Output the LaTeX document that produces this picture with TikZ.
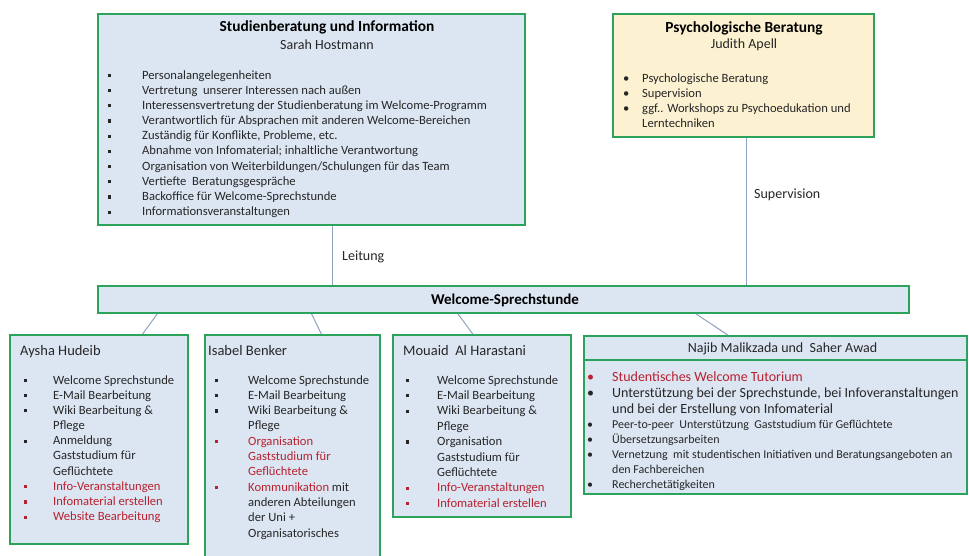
\documentclass[tikz,border=0pt]{standalone}
\usepackage{fontspec}
\setmainfont{Carlito}
\usetikzlibrary{calc}
\definecolor{bxblue}{HTML}{DCE6F2}
\definecolor{bxyel}{HTML}{FCF1D1}
\definecolor{bxgreen}{HTML}{2BA35B}
\definecolor{conncol}{HTML}{8DA3C2}
\definecolor{redtxt}{HTML}{B8212F}
\definecolor{txt}{HTML}{262626}
\newcommand\sqb{\leavevmode\rule[2pt]{3.2pt}{3.2pt}}
\newcommand\rsqb{\leavevmode{\color{redtxt}\rule[2pt]{3.2pt}{3.2pt}}}
\newcommand\rdb{\leavevmode{\color{redtxt}\textbullet}}
\newcommand\rt[1]{\leavevmode\textcolor{redtxt}{#1}}
\tikzset{
  box/.style={draw=bxgreen, line width=2pt, fill=bxblue, inner sep=0pt, anchor=north west},
  conn/.style={draw=conncol, line width=1pt},
  lst/.style={anchor=base west, inner sep=0pt, text=txt},
  ttl/.style={anchor=base, inner sep=0pt, text=black, font=\fontsize{15.4}{17}\selectfont\bfseries},
  nm/.style={anchor=base, inner sep=0pt, text=txt, font=\fontsize{14}{16}\selectfont},
  pname/.style={anchor=base west, inner sep=0pt, text=txt, font=\fontsize{14.5}{16}\selectfont},
  lbl/.style={anchor=base west, inner sep=0pt, text=txt, font=\fontsize{14}{16}\selectfont},
}
\begin{document}
\begin{tikzpicture}[x=1pt,y=-1pt]
\useasboundingbox (0,0) rectangle (969,555);
\fill[white] (0,0) rectangle (969,555);

% boxes
\node[box, minimum width=427pt, minimum height=211pt] (sb) at (97,13) {};
\node[box, fill=bxyel, minimum width=261pt, minimum height=123pt] (pb) at (612,13) {};
\node[box, minimum width=811pt, minimum height=27pt] (bar) at (97,285) {};
\node[box, minimum width=178pt, minimum height=209pt] (ah) at (9,334) {};
\node[box, minimum width=175pt, minimum height=232pt] (ib) at (204,334) {};
\node[box, minimum width=178pt, minimum height=182pt] (ma) at (392,334) {};
\node[box, minimum width=383pt, minimum height=158pt] (nk) at (583,335) {};
\draw[bxgreen, line width=1.5pt] ($(nk.north west)+(0,25)$) -- ($(nk.north east)+(0,25)$);

% connectors
\coordinate (l1) at ($(sb.south west)!0.548!(sb.south east)$);
\draw[conn] (l1) -- (l1 |- bar.north);
\coordinate (s1) at ($(pb.south west)!0.51!(pb.south east)$);
\draw[conn] (s1) -- (s1 |- bar.north);
\draw[conn] ($(bar.south west)!0.074!(bar.south east)$) -- ($(ah.north west)!0.742!(ah.north east)$);
\draw[conn] ($(bar.south west)!0.264!(bar.south east)$) -- ($(ib.north west)!0.663!(ib.north east)$);
\draw[conn] ($(bar.south west)!0.444!(bar.south east)$) -- ($(ma.north west)!0.449!(ma.north east)$);
\draw[conn] ($(bar.south west)!0.737!(bar.south east)$) -- ($(nk.north west)!0.376!(nk.north east)$);

\node[lbl] (leit) at (342,260) {Leitung};
\node[lbl] (sup) at (754,198) {Supervision};

% top left
\node[ttl] (sbt) at (327,31) {Studienberatung und Information};
\node[nm] (sbn) at (327,49) {Sarah Hostmann};
\node[lst, font=\fontsize{12.6}{15.19}\selectfont] (sbl) at (108,79) {\begin{tabular}[t]{@{}p{34pt}@{}l@{}}
\sqb & Personalangelegenheiten\\
\sqb & Vertretung\ \ unserer Interessen nach außen\\
\sqb & Interessensvertretung der Studienberatung im Welcome-Programm\\
\sqb & Verantwortlich für Absprachen mit anderen Welcome-Bereichen\\
\sqb & Zuständig für Konflikte, Probleme, etc.\\
\sqb & Abnahme von Infomaterial; inhaltliche Verantwortung\\
\sqb & Organisation von Weiterbildungen/Schulungen für das Team\\
\sqb & Vertiefte\ \ Beratungsgespräche\\
\sqb & Backoffice für Welcome-Sprechstunde\\
\sqb & Informationsveranstaltungen
\end{tabular}};

% top right
\node[ttl] (pbt) at (744,32) {Psychologische Beratung};
\node[nm] (pbn) at (744,48) {Judith Apell};
\node[lst, font=\fontsize{12.6}{15}\selectfont] (pbl) at (623,82) {\begin{tabular}[t]{@{}p{19pt}@{}l@{}}
\textbullet & Psychologische Beratung\\
\textbullet & Supervision\\
\textbullet & ggf.. Workshops zu Psychoedukation und\\
 & Lerntechniken
\end{tabular}};

% bar
\node[ttl, font=\fontsize{15}{17}\selectfont\bfseries] (bart) at (505,304) {Welcome-Sprechstunde};

% Aysha
\node[pname] (ahn) at (20,355) {Aysha Hudeib};
\node[lst, font=\fontsize{12.6}{15.19}\selectfont] (ahl) at (23.5,384) {\begin{tabular}[t]{@{}p{29.5pt}@{}l@{}}
\sqb & Welcome Sprechstunde\\
\sqb & E-Mail Bearbeitung\\
\sqb & Wiki Bearbeitung \&\\
 & Pflege\\
\sqb & Anmeldung\\
 & Gaststudium für\\
 & Geflüchtete\\
\rsqb & \rt{Info-Veranstaltungen}\\
\rsqb & \rt{Infomaterial erstellen}\\
\rsqb & \rt{Website Bearbeitung}
\end{tabular}};

% Isabel
\node[pname] (ibn) at (208,355) {Isabel Benker};
\node[lst, font=\fontsize{12.6}{15.33}\selectfont] (ibl) at (214.5,384) {\begin{tabular}[t]{@{}p{33.5pt}@{}l@{}}
\sqb & Welcome Sprechstunde\\
\sqb & E-Mail Bearbeitung\\
\sqb & Wiki Bearbeitung \&\\
 & Pflege\\
\rsqb & \rt{Organisation}\\
 & \rt{Gaststudium für}\\
 & \rt{Geflüchtete}\\
\rsqb & \rt{Kommunikation} mit\\
 & anderen Abteilungen\\
 & der Uni +\\
 & Organisatorisches
\end{tabular}};

% Mouaid
\node[pname] (man) at (403,355) {Mouaid\ \ Al Harastani};
\node[lst, font=\fontsize{12.6}{15.4}\selectfont] (mal) at (405.5,384) {\begin{tabular}[t]{@{}p{31.5pt}@{}l@{}}
\sqb & Welcome Sprechstunde\\
\sqb & E-Mail Bearbeitung\\
\sqb & Wiki Bearbeitung \&\\
 & Pflege\\
\sqb & Organisation\\
 & Gaststudium für\\
 & Geflüchtete\\
\rsqb & \rt{Info-Veranstaltungen}\\
\rsqb & \rt{Infomaterial erstellen}
\end{tabular}};

% Najib
\node[nm, font=\fontsize{14}{16}\selectfont] (nkt) at (782.5,352) {Najib Malikzada und\ \ Saher Awad};
\node[lst, font=\fontsize{14}{15.8}\selectfont] (nkl1) at (587,381.5) {\begin{tabular}[t]{@{}p{25pt}@{}l@{}}
\rdb & \rt{Studentisches Welcome Tutorium}\\
\textbullet & Unterstützung bei der Sprechstunde, bei Infoveranstaltungen\\
 & und bei der Erstellung von Infomaterial
\end{tabular}};
\node[lst, font=\fontsize{12}{15}\selectfont] (nkl2) at (587,428.5) {\begin{tabular}[t]{@{}p{25pt}@{}l@{}}
\textbullet & Peer-to-peer\ \ Unterstützung\ \ Gaststudium für Geflüchtete\\
\textbullet & Übersetzungsarbeiten\\
\textbullet & Vernetzung\ \ mit studentischen Initiativen und Beratungsangeboten an\\
 & den Fachbereichen\\
\textbullet & Recherchetätigkeiten
\end{tabular}};
\end{tikzpicture}
\end{document}
